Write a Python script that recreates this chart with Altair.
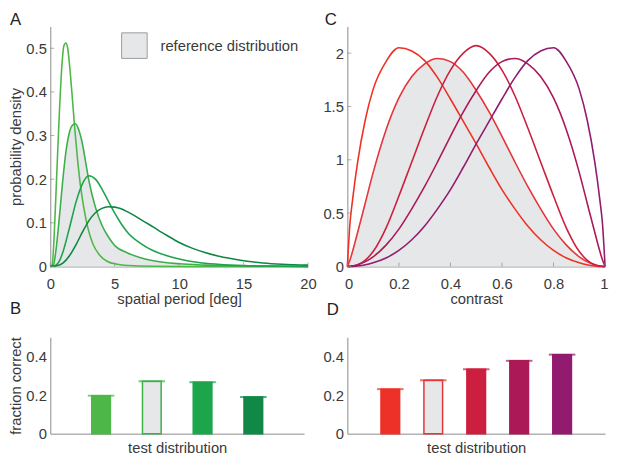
import altair as alt
import pandas as pd

FONT = "Liberation Sans"
AX = "#8a8a8a"
TXT = "#3a3a3a"
GRAY = "#e6e7e8"
FS = 15

# ---------------- Panel A : spatial period densities ----------------
a1_x = [0, 0.15, 0.3, 0.5, 0.7, 0.9, 1.05, 1.2, 1.35, 1.5, 1.7, 1.9, 2.1, 2.3, 2.6, 2.9, 3.3, 3.8, 4.4, 5.2, 6.5, 8, 12, 20]
a1_y = [0, 0.004, 0.07, 0.21, 0.35, 0.46, 0.505, 0.512, 0.5, 0.46, 0.39, 0.315, 0.25, 0.195, 0.135, 0.09, 0.052, 0.027, 0.012, 0.005, 0.0015, 0.0005, 0, 0]

a2_x = [0, 0.25, 0.45, 0.7, 0.95, 1.2, 1.45, 1.7, 1.95, 2.2, 2.5, 2.75, 3.0, 3.5, 4.0, 4.5, 5.0, 6.0, 7.0, 8.0, 10, 12, 15, 20]
a2_y = [0, 0.004, 0.04, 0.112, 0.192, 0.26, 0.303, 0.323, 0.327, 0.314, 0.28, 0.238, 0.196, 0.136, 0.095, 0.068, 0.048, 0.031, 0.02, 0.013, 0.006, 0.003, 0.001, 0]

a3_x = [0, 0.4, 0.7, 1.0, 1.5, 2.0, 2.5, 3.0, 3.5, 4.0, 4.5, 5.0, 5.5, 6.0, 7.0, 8.0, 9.0, 10, 11.5, 13, 15, 17, 20]
a3_y = [0, 0.002, 0.012, 0.035, 0.09, 0.148, 0.19, 0.208, 0.2, 0.178, 0.15, 0.122, 0.098, 0.078, 0.053, 0.036, 0.025, 0.017, 0.009, 0.005, 0.002, 0.001, 0]

a4_x = [0, 0.6, 1.0, 1.5, 2.0, 2.5, 3.0, 3.5, 4.0, 4.5, 5.0, 5.5, 6.0, 7.0, 8.0, 9.0, 10, 11, 12, 13, 14, 15, 16.5, 18, 20]
a4_y = [0, 0.002, 0.008, 0.025, 0.05, 0.079, 0.105, 0.123, 0.133, 0.137, 0.136, 0.132, 0.125, 0.108, 0.09, 0.072, 0.055, 0.042, 0.032, 0.024, 0.018, 0.013, 0.008, 0.005, 0.003]

a_names = ["A test 1", "A reference", "A test 2", "A test 3"]
a_colors = ["#4db848", "#3cae4a", "#1da34b", "#0f8744"]
a_xticks = [0, 5, 10, 15, 20]
a_yticks = [0, 0.1, 0.2, 0.3, 0.4, 0.5]

# ---------------- Panel C : contrast densities ----------------
c_x = [0, 0.01, 0.02, 0.04, 0.07, 0.1, 0.15, 0.2, 0.25, 0.3, 0.35, 0.4, 0.45, 0.5,
       0.55, 0.6, 0.65, 0.7, 0.75, 0.8, 0.85, 0.9, 0.93, 0.96, 0.98, 0.99, 1]
c1_y = [0, 0.4, 0.62, 0.98, 1.38, 1.66, 1.92, 2.05, 2.02, 1.93, 1.77, 1.57, 1.36, 1.15,
        0.93, 0.72, 0.54, 0.38, 0.25, 0.15, 0.08, 0.035, 0.016, 0.005, 0.001, 0, 0]
c2_y = [0, 0.06, 0.14, 0.32, 0.6, 0.88, 1.28, 1.58, 1.78, 1.9, 1.95, 1.92, 1.82, 1.65,
        1.45, 1.22, 0.98, 0.75, 0.54, 0.35, 0.2, 0.09, 0.045, 0.015, 0.004, 0.001, 0]
c3_y = [0, 0.001, 0.003, 0.015, 0.06, 0.14, 0.36, 0.66, 0.98, 1.3, 1.6, 1.84, 2.0, 2.07,
        2.0, 1.84, 1.6, 1.3, 0.98, 0.66, 0.36, 0.14, 0.06, 0.015, 0.003, 0.001, 0]
c4_y = [0, 0.001, 0.004, 0.015, 0.045, 0.09, 0.2, 0.35, 0.54, 0.75, 0.98, 1.22, 1.45, 1.65,
        1.82, 1.92, 1.95, 1.9, 1.78, 1.58, 1.28, 0.88, 0.6, 0.32, 0.14, 0.06, 0]
c5_y = [0, 0, 0.001, 0.005, 0.016, 0.035, 0.08, 0.15, 0.25, 0.38, 0.54, 0.72, 0.93, 1.15,
        1.36, 1.57, 1.77, 1.93, 2.02, 2.05, 1.92, 1.66, 1.38, 0.98, 0.62, 0.4, 0]

c_names = ["C test 1", "C reference", "C test 2", "C test 3", "C test 4"]
c_colors = ["#ee3124", "#e5343a", "#cc1f40", "#ab1957", "#901b6f"]
c_xticks = [0, 0.2, 0.4, 0.6, 0.8, 1]
c_yticks = [0, 0.5, 1, 1.5, 2]

# ---------------- Panels B and D : fraction correct ----------------
b_names = ["B test 1", "B reference", "B test 2", "B test 3"]
b_vals = [0.197, 0.272, 0.267, 0.19]
b_fill = ["#4db848", GRAY, "#1ca54b", "#108846"]
b_edge = ["#4db848", "#3db049", "#1ca54b", "#108846"]

d_names = ["D test 1", "D reference", "D test 2", "D test 3", "D test 4"]
d_vals = [0.231, 0.277, 0.334, 0.378, 0.41]
d_fill = ["#ee3128", GRAY, "#cc1e3f", "#ab1957", "#921a6f"]
d_edge = ["#ee3128", "#e63338", "#cc1e3f", "#ab1957", "#921a6f"]

bar_yticks = [0, 0.2, 0.4]


def long_df(names, xs_list, ys_list):
    rows = []
    for n, xs, ys in zip(names, xs_list, ys_list):
        for x, y in zip(xs, ys):
            rows.append({"series": n, "x": x, "y": y})
    return pd.DataFrame(rows)


def density_panel(df, ref_df, names, colors, xdom, ydom, xticks, yticks,
                  xtitle, ytitle, letter, dx, w, h, legend, xflush):
    xenc = alt.X("x:Q", scale=alt.Scale(domain=xdom, nice=False, zero=False),
                 axis=alt.Axis(values=xticks, format="~g", title=xtitle,
                               labelFlush=xflush, labelFlushOffset=3))
    yenc = alt.Y("y:Q", scale=alt.Scale(domain=ydom, nice=False),
                 axis=alt.Axis(values=yticks, format="~g", title=ytitle))
    if legend:
        leg = alt.Legend(orient="none", legendX=72, legendY=6, title=None,
                         symbolType="square", symbolSize=676,
                         symbolStrokeColor="#9a9a9a", symbolStrokeWidth=1,
                         symbolFillColor=GRAY, labelFont=FONT,
                         labelFontSize=FS, labelColor=TXT, labelOffset=13,
                         padding=0)
    else:
        leg = None
    area = alt.Chart(ref_df).mark_area(interpolate="monotone").encode(
        x=xenc, y=yenc,
        fill=alt.Fill("label:N", scale=alt.Scale(domain=["reference distribution"],
                                                 range=[GRAY]), legend=leg))
    lines = alt.Chart(df).mark_line(interpolate="monotone", strokeWidth=1.6).encode(
        x=xenc, y=yenc,
        color=alt.Color("series:N", scale=alt.Scale(domain=names, range=colors),
                        legend=None))
    yt = alt.Chart(pd.DataFrame({"y": yticks})).mark_tick(
        orient="horizontal", size=4, thickness=1, color=AX).encode(
        y=yenc, x=alt.value(2))
    xt = alt.Chart(pd.DataFrame({"x": xticks})).mark_tick(
        orient="vertical", size=4, thickness=1, color=AX).encode(
        x=xenc, y=alt.value(h - 2))
    return alt.layer(area, lines, yt, xt).properties(
        width=w, height=h,
        title=alt.TitleParams(letter, anchor="start", frame="group", dx=dx,
                              offset=-3, baseline="top"))


def bar_panel(names, vals, fills, edges, ytitle, letter, dx, w, h):
    df = pd.DataFrame({"name": names, "val": vals})
    xenc = alt.X("name:N", sort=names, scale=alt.Scale(type="point", padding=1),
                 axis=alt.Axis(title="test distribution", labels=False, ticks=False,
                               tickSize=0, titlePadding=7))
    yenc = alt.Y("val:Q", scale=alt.Scale(domain=[0, 0.5], nice=False),
                 axis=alt.Axis(values=bar_yticks, format="~g", title=ytitle))
    bars = alt.Chart(df).mark_bar(size=19, strokeWidth=1.5).encode(
        x=xenc, y=yenc,
        fill=alt.Fill("name:N", scale=alt.Scale(domain=names, range=fills), legend=None),
        stroke=alt.Stroke("name:N", scale=alt.Scale(domain=names, range=edges), legend=None))
    caps = alt.Chart(df).mark_tick(size=27, thickness=2, orient="horizontal").encode(
        x=xenc, y=yenc,
        color=alt.Color("name:N", scale=alt.Scale(domain=names, range=edges), legend=None))
    return alt.layer(bars, caps).properties(
        width=w, height=h,
        title=alt.TitleParams(letter, anchor="start", frame="group", dx=dx,
                              offset=19, baseline="top"))


df_a = long_df(a_names, [a1_x, a2_x, a3_x, a4_x], [a1_y, a2_y, a3_y, a4_y])
ref_a = pd.DataFrame({"x": a2_x, "y": a2_y, "label": "reference distribution"})
df_c = long_df(c_names, [c_x] * 5, [c1_y, c2_y, c3_y, c4_y, c5_y])
ref_c = pd.DataFrame({"x": c_x, "y": c2_y, "label": "reference distribution"})

panel_a = density_panel(df_a, ref_a, a_names, a_colors, [0, 20], [0, 0.55],
                        a_xticks, a_yticks, "spatial period [deg]",
                        "probability density", "A", -41, 262, 244, True, False)
panel_c = density_panel(df_c, ref_c, c_names, c_colors, [0, 1], [0, 2.25],
                        c_xticks, c_yticks, "contrast", None, "C", -23, 262, 244,
                        False, True)
panel_b = bar_panel(b_names, b_vals, b_fill, b_edge, "fraction correct", "B", -41, 258, 98)
panel_d = bar_panel(d_names, d_vals, d_fill, d_edge, None, "D", -21, 262, 98)

chart = alt.concat(
    panel_a, panel_c, panel_b, panel_d,
    columns=2, spacing={"row": 72, "column": 40}, bounds="flush", align="each"
).resolve_scale(
    color="independent", fill="independent", stroke="independent"
).resolve_legend(
    color="independent", fill="independent", stroke="independent"
).properties(
    padding=0
).configure_view(stroke=None).configure_axis(
    grid=False, domainColor=AX, domainWidth=1, ticks=False, tickSize=0,
    labelFont=FONT, labelFontSize=FS, labelColor=TXT,
    titleFont=FONT, titleFontSize=FS, titleFontWeight="normal", titleColor=TXT
).configure_axisX(labelPadding=10, titlePadding=1).configure_axisY(
    labelPadding=4, titlePadding=2.5
).configure_title(font=FONT, fontSize=17, fontWeight="normal", color="#222222")

chart.save("out.html", embed_options={"renderer": "svg", "actions": False})
